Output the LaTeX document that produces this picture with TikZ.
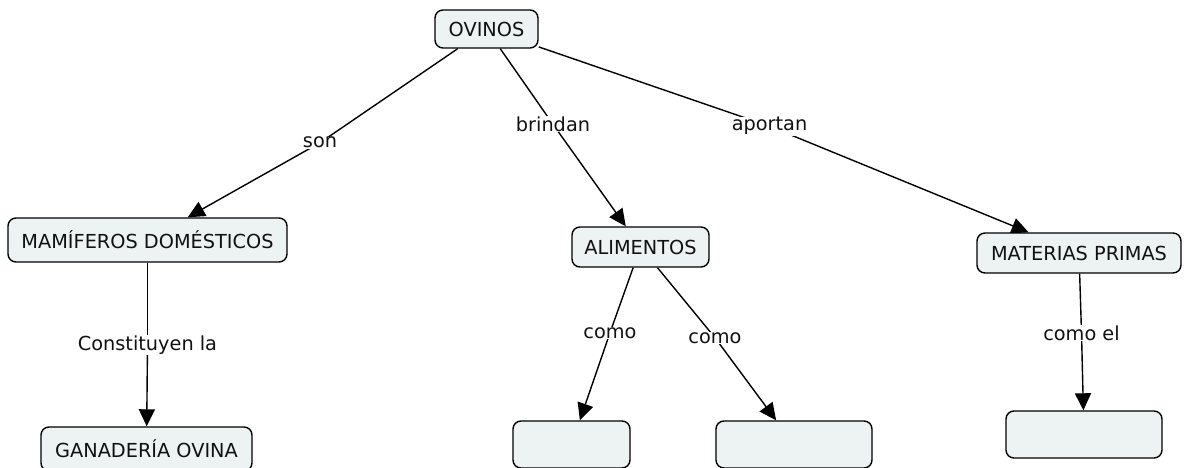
\documentclass[tikz,border=0pt]{standalone}
\usepackage{fontspec}
\newfontfamily\vfont{DejaVu Sans}
\usetikzlibrary{arrows.meta,backgrounds}
\definecolor{boxfill}{HTML}{EDF3F3}
\definecolor{txt}{HTML}{111111}
\begin{document}
\begin{tikzpicture}[x=1pt,y=-1pt,
  box/.style={draw=black, line width=1.4pt, rounded corners=8pt, fill=boxfill,
    inner sep=0pt, align=center, text=txt, font=\vfont\fontsize{19.3}{22}\selectfont},
  lbl/.style={inner sep=0.5pt, fill=white, anchor=base, text=txt, font=\vfont\fontsize{19.3}{22}\selectfont},
  conn/.style={line width=1.4pt, draw=black},
  arr/.style={conn, -{Triangle[length=17pt,width=16pt]}}]
\useasboundingbox (0,0) rectangle (1184,468);
% concept boxes
\node[box, minimum width=103pt, minimum height=38pt] (ovinos) at (486.5,29) {OVINOS};
\node[box, minimum width=279pt, minimum height=44pt] (mam) at (147.5,240) {MAMÍFEROS DOMÉSTICOS};
\node[box, minimum width=137pt, minimum height=40pt] (alim) at (640.5,247) {ALIMENTOS};
\node[box, minimum width=204pt, minimum height=40pt] (mat) at (1079,253) {MATERIAS PRIMAS};
\node[box, minimum width=211pt, minimum height=44pt] (gan) at (146.5,449) {GANADERÍA OVINA};
\node[box, minimum width=117pt, minimum height=47pt] (e1) at (571.5,444.5) {};
\node[box, minimum width=156pt, minimum height=47pt] (e2) at (794,444.5) {};
\node[box, minimum width=156pt, minimum height=47pt] (e3) at (1084,434.5) {};
% linking labels
\node[lbl] (son) at (320,148) {son};
\node[lbl] (brindan) at (553,131.5) {brindan};
\node[lbl] (aportan) at (769.5,131) {aportan};
\node[lbl] (const) at (147.5,350) {Constituyen la};
\node[lbl] (como1) at (610,338) {como};
\node[lbl] (como2) at (715,343) {como};
\node[lbl] (comoel) at (1081.5,340) {como el};
% connectors
\begin{pgfonlayer}{background}
\draw[conn] (ovinos) -- (son.center);
\draw[arr] (son.center) -- (mam);
\draw[conn] (ovinos) -- (brindan.center);
\draw[arr] (brindan.center) -- (alim);
\draw[conn] (ovinos) -- (aportan.center);
\draw[arr] (aportan.center) -- (mat);
\draw[conn] (mam) -- (const.center);
\draw[arr] (const.center) -- (gan);
\draw[conn] (alim) -- (como1.center);
\draw[arr] (como1.center) -- (e1);
\draw[conn] (alim) -- (como2.center);
\draw[arr] (como2.center) -- (e2);
\draw[conn] (mat) -- (comoel.center);
\draw[arr] (comoel.center) -- (e3);
\end{pgfonlayer}
\end{tikzpicture}
\end{document}
